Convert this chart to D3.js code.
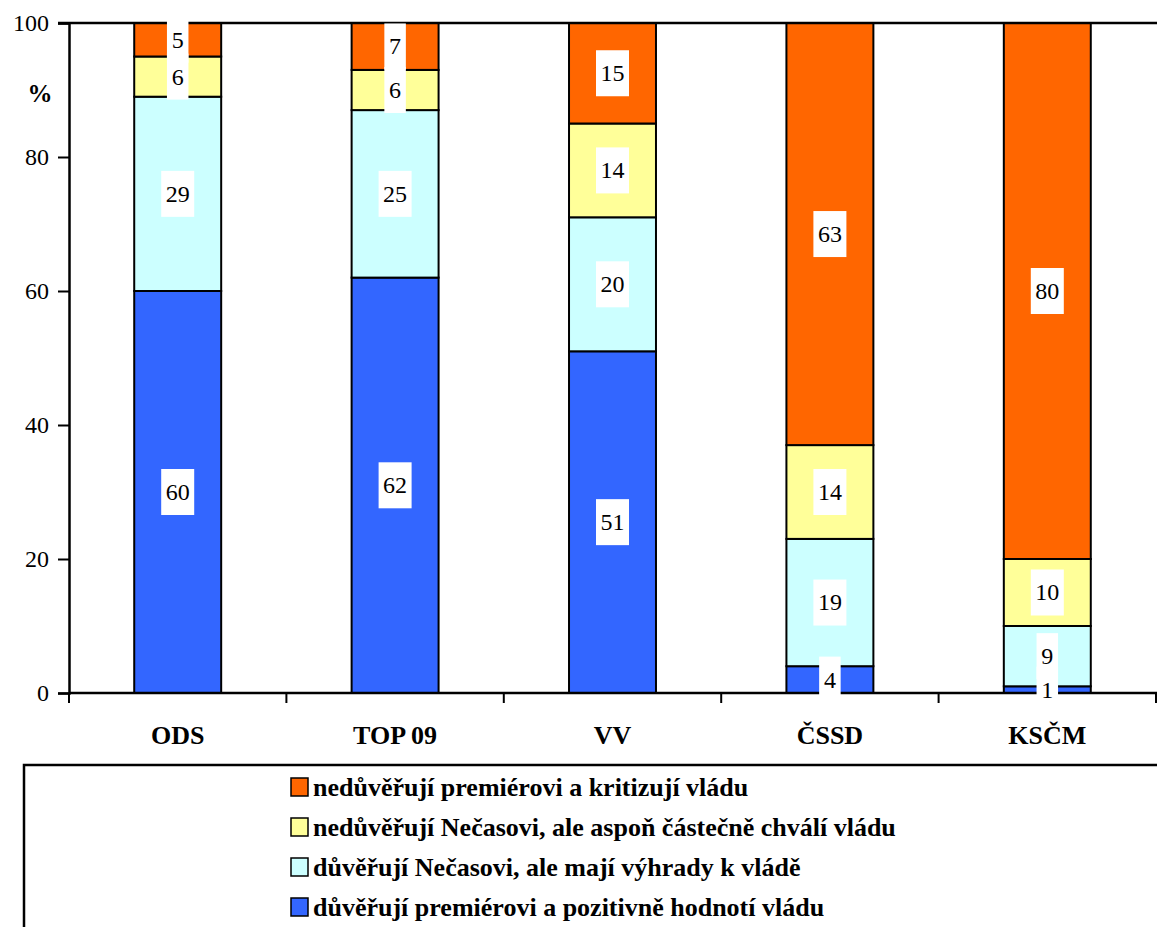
<!DOCTYPE html>
<html>
<head>
<meta charset="utf-8">
<script src="https://cdn.jsdelivr.net/npm/d3@7"></script>
</head>
<body style="margin:0">
<div id="chart"></div>
<script>
const parties = ['ODS', 'TOP 09', 'VV', 'ČSSD', 'KSČM'];
const seriesNames = [
  'důvěřují premiérovi a pozitivně hodnotí vládu',
  'důvěřují Nečasovi, ale mají výhrady k vládě',
  'nedůvěřují Nečasovi, ale aspoň částečně chválí vládu',
  'nedůvěřují premiérovi a kritizují vládu'
];
const trustPositive = [60, 62, 51, 4, 1];
const trustReserved = [29, 25, 20, 19, 9];
const distrustPraise = [6, 6, 14, 14, 10];
const distrustCritic = [5, 7, 15, 63, 80];
const yTicks = [0, 20, 40, 60, 80, 100];
const colors = ['#3366FF', '#CCFFFF', '#FFFF99', '#FF6600'];

const W = 1157, H = 927;
const mLeft = 69, mRight = 1156, mTop = 23, mBottom = 693;
const fontName = 'Liberation Serif';

const svg = d3.select('#chart').append('svg')
  .attr('width', W)
  .attr('height', H)
  .attr('font-family', fontName);

const rows = parties.map((p, i) => ({
  party: p,
  s0: trustPositive[i], s1: trustReserved[i], s2: distrustPraise[i], s3: distrustCritic[i]
}));
const layers = d3.stack().keys(['s0', 's1', 's2', 's3'])(rows);

const x = d3.scaleBand().domain(parties).range([mLeft, mRight]).paddingInner(0.6).paddingOuter(0.3);
const xCat = d3.scaleBand().domain(parties).range([mLeft, mRight]);
const y = d3.scaleLinear().domain([0, 100]).range([mBottom, mTop]);

// bars
const barG = svg.append('g');
layers.forEach((layer, k) => {
  barG.selectAll('rect.s' + k)
    .data(layer)
    .join('rect')
    .attr('class', 's' + k)
    .attr('x', (d, i) => x(parties[i]))
    .attr('y', d => y(d[1]))
    .attr('width', x.bandwidth())
    .attr('height', d => y(d[0]) - y(d[1]))
    .attr('fill', colors[k])
    .attr('stroke', '#000')
    .attr('stroke-width', 2);
});

// y axis
const yAxis = svg.append('g')
  .attr('transform', `translate(${mLeft},0)`)
  .call(d3.axisLeft(y).tickValues(yTicks).tickSize(11).tickPadding(9));
yAxis.attr('font-family', fontName);
yAxis.select('.domain').attr('stroke-width', 2.5);
yAxis.selectAll('.tick line').attr('stroke-width', 2);
yAxis.selectAll('text')
  .attr('font-family', fontName)
  .style('font-family', fontName)
  .attr('font-size', 24)
  .attr('dy', '0.33em');

// top border line
svg.append('line')
  .attr('x1', mLeft - 11).attr('x2', W).attr('y1', mTop).attr('y2', mTop)
  .attr('stroke', '#000').attr('stroke-width', 2.5);

// x axis
const xAxis = svg.append('g')
  .attr('transform', `translate(0,${mBottom})`);
xAxis.append('line')
  .attr('x1', mLeft).attr('x2', W).attr('stroke', '#000').attr('stroke-width', 2.5);
xAxis.selectAll('line.tk')
  .data(d3.range(parties.length + 1))
  .join('line')
  .attr('class', 'tk')
  .attr('x1', i => mLeft + i * xCat.step()).attr('x2', i => mLeft + i * xCat.step())
  .attr('y1', 0).attr('y2', 10)
  .attr('stroke', '#000').attr('stroke-width', 2);
xAxis.selectAll('text')
  .data(parties)
  .join('text')
  .attr('x', d => xCat(d) + xCat.bandwidth() / 2)
  .attr('y', 51)
  .attr('text-anchor', 'middle')
  .attr('font-size', 26)
  .attr('font-weight', 'bold')
  .attr('font-family', fontName)
  .style('font-family', fontName)
  .text(d => d);

svg.append('text')
  .attr('x', 40).attr('y', 102)
  .attr('text-anchor', 'middle')
  .attr('font-size', 25)
  .attr('font-weight', 'bold')
  .attr('font-family', fontName)
  .style('font-family', fontName)
  .text('%');

// value labels on white boxes
const labels = [];
layers.forEach(layer => layer.forEach((d, i) => {
  labels.push({ party: parties[i], v: d[1] - d[0], mid: (d[0] + d[1]) / 2 });
}));
const lab = svg.append('g').selectAll('g')
  .data(labels)
  .join('g')
  .attr('transform', d => `translate(${x(d.party) + x.bandwidth() / 2},${y(d.mid)})`);
lab.append('rect')
  .attr('x', d => -(String(d.v).length * 11.5 + 10) / 2)
  .attr('y', -23)
  .attr('width', d => String(d.v).length * 11.5 + 10)
  .attr('height', 46)
  .attr('fill', '#fff');
lab.append('text')
  .attr('text-anchor', 'middle')
  .attr('dy', '0.33em')
  .attr('font-size', 24)
  .attr('font-family', fontName)
  .style('font-family', fontName)
  .text(d => d.v);

// legend
svg.append('path')
  .attr('d', `M24,${H}V765H${W}`)
  .attr('fill', 'none').attr('stroke', '#000').attr('stroke-width', 2.5);
const legendOrder = [3, 2, 1, 0];
const leg = svg.append('g').selectAll('g')
  .data(legendOrder)
  .join('g')
  .attr('transform', (d, i) => `translate(291,${796 + i * 40})`);
leg.append('rect')
  .attr('x', 0).attr('y', -18).attr('width', 17).attr('height', 18)
  .attr('fill', d => colors[d]).attr('stroke', '#000').attr('stroke-width', 1.5);
leg.append('text')
  .attr('x', 22)
  .attr('font-size', 26)
  .attr('font-weight', 'bold')
  .attr('font-family', fontName)
  .style('font-family', fontName)
  .text(d => seriesNames[d]);
</script>
</body>
</html>
